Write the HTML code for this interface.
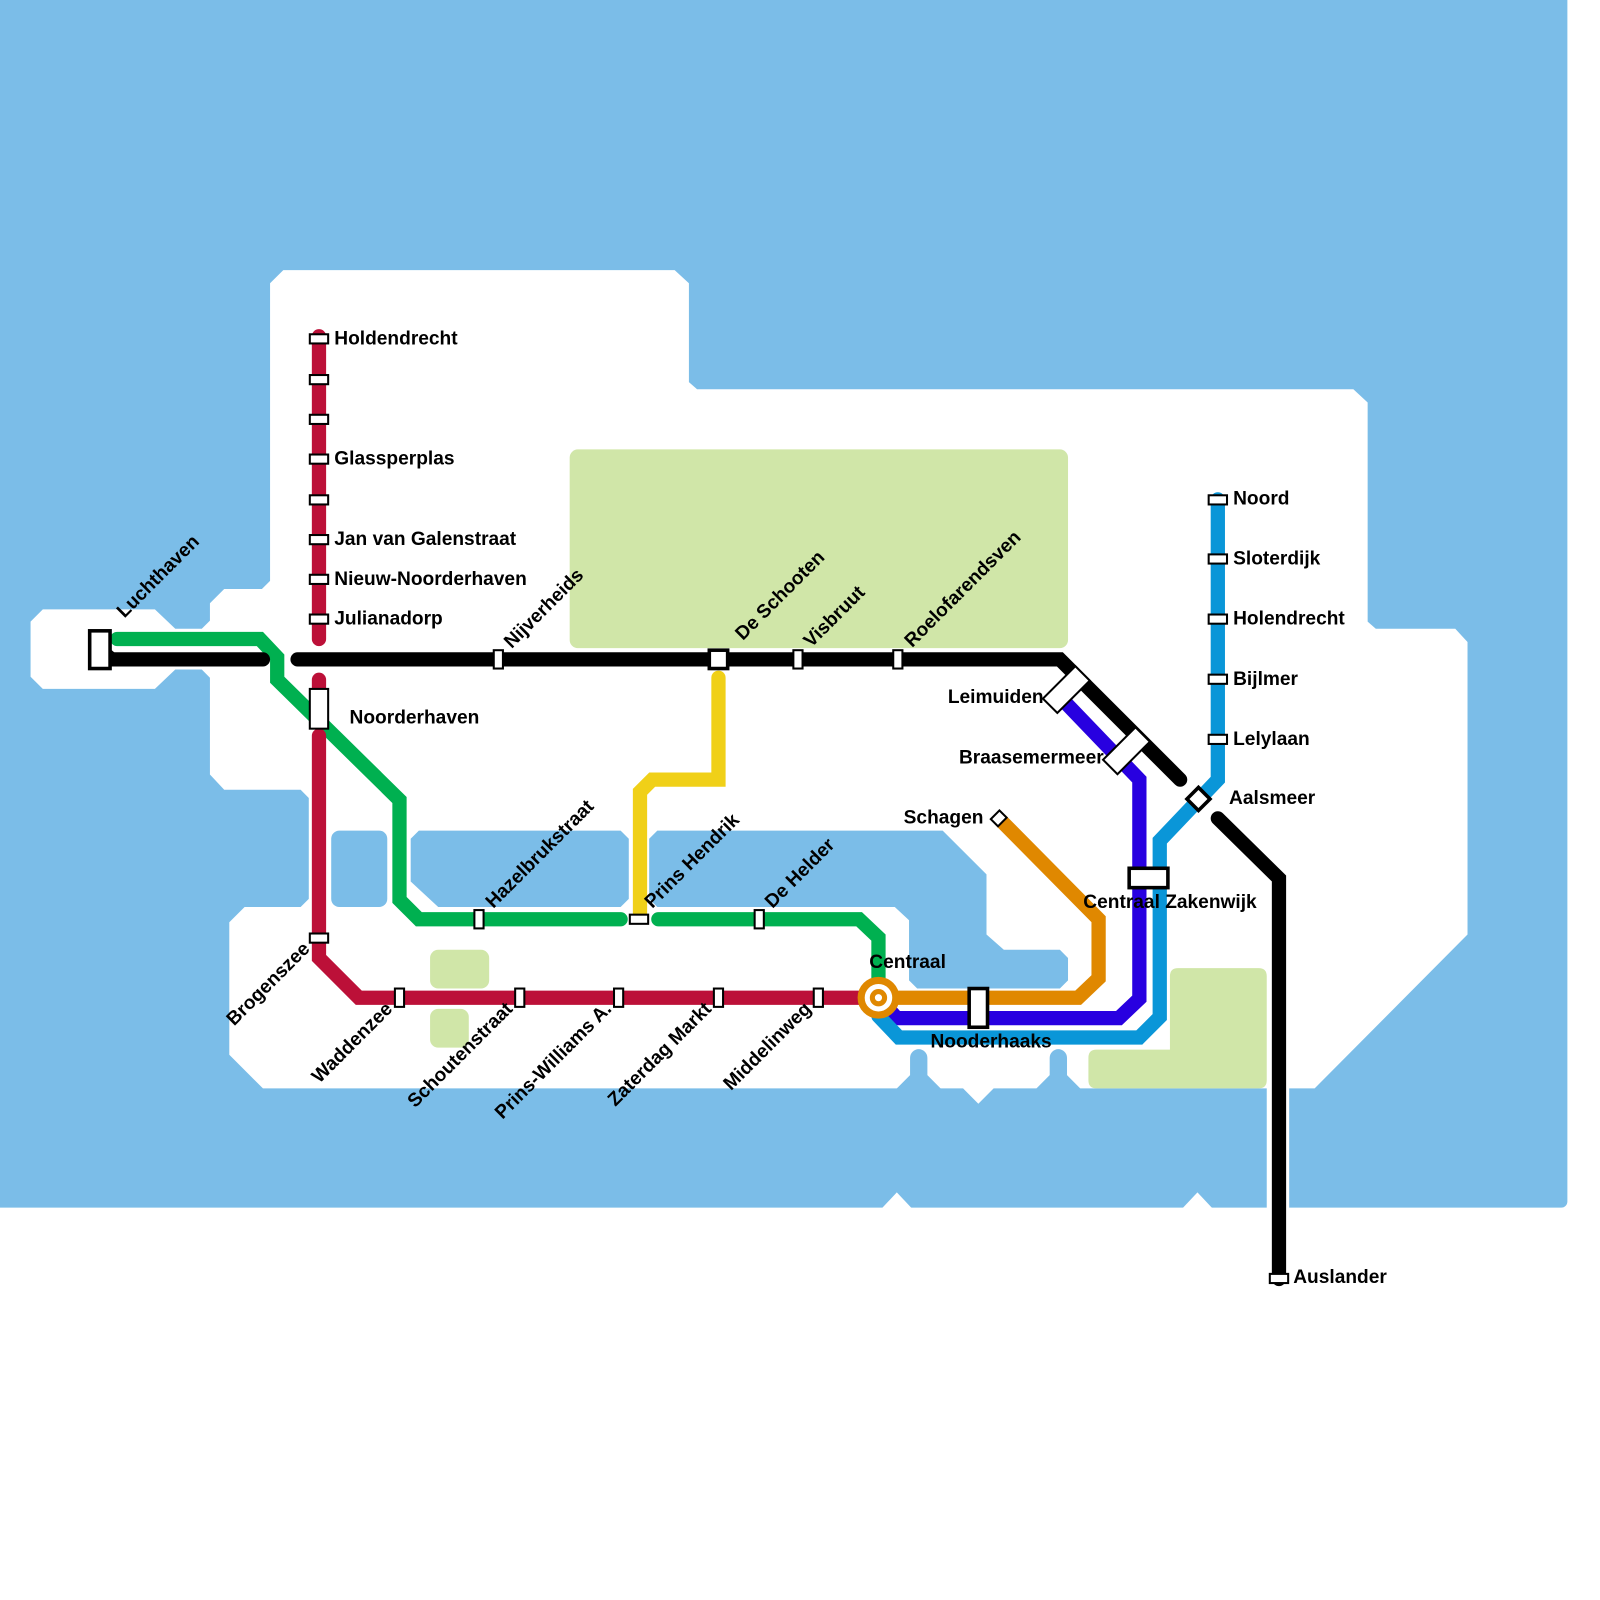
<!DOCTYPE html>
<html><head><meta charset="utf-8"><style>html,body{margin:0;padding:0;background:#fff}svg{display:block}text{font-family:"Liberation Sans",sans-serif;font-weight:bold;font-size:18.8px;fill:#000}</style></head>
<body>
<svg width="1600" height="1600" viewBox="0 0 1570 1570" xmlns="http://www.w3.org/2000/svg">
<rect x="0" y="0" width="1570" height="1570" fill="#fff"/>
<rect x="-10" y="-10" width="1548" height="1195" rx="6" fill="#7bbde8"/>
<polygon fill="#fff" points="278,265 662,265 676,278 676,375 684,382 1328,382 1342,395 1342,610 1350,617 1428,617 1440,630 1440,917 1290,1068 975,1068 960,1083 945,1068 258,1068 225,1035 225,905 240,890 295,890 303,882 303,783 295,775 220,775 206,760 206,665 198,657 172,657 152,676 42,676 30,664 30,610 42,598 152,598 172,617 198,617 206,609 206,592 220,578 257,578 265,570 265,278"/>
<rect x="1243" y="1060" width="22" height="140" fill="#fff"/>
<polygon fill="#fff" points="865,1186 880,1170 895,1186"/>
<polygon fill="#fff" points="1160,1186 1175,1170 1190,1186"/>
<rect x="325" y="815" width="55" height="75" rx="8" fill="#7bbde8"/>
<polygon fill="#7bbde8" points="411,815 609,815 617,823 617,882 609,890 430,890 403,865 403,823"/>
<polygon fill="#7bbde8" points="645,815 925,815 968,858 968,917 985,932 1040,932 1048,940 1048,962 1040,970 900,970 892,962 892,903 878,890 645,890 637,882 637,823"/>
<path fill="#7bbde8" d="M878,1070 L893,1055 L893,1038 A8.5,8.5 0 0 1 910,1038 L910,1055 L925,1070 Z"/>
<path fill="#7bbde8" d="M1015,1070 L1030,1055 L1030,1038 A8.5,8.5 0 0 1 1047,1038 L1047,1055 L1062,1070 Z"/>
<rect x="559" y="441" width="489" height="195" rx="8" fill="#d0e6a8"/>
<rect x="422" y="932" width="58" height="38" rx="8" fill="#d0e6a8"/>
<rect x="422" y="990" width="38" height="38" rx="8" fill="#d0e6a8"/>
<path fill="#d0e6a8" d="M1156,950 H1235 Q1243,950 1243,958 V1060 Q1243,1068 1235,1068 H1076 Q1068,1068 1068,1060 V1038 Q1068,1030 1076,1030 H1148 V958 Q1148,950 1156,950 Z"/>
<g fill="none" stroke-width="14" stroke-linejoin="miter" stroke-linecap="round">
<polyline stroke="#00b050" points="115,627 255,627 272,645 272,667 392,785 392,883 411,902 609,902"/>
<polyline stroke="#00b050" points="646,902 843,902 862,920 862,960"/>
<polyline stroke="#bc1038" points="313,330 313,627"/>
<polyline stroke="#bc1038" points="313,667 313,680"/>
<polyline stroke="#bc1038" points="313,722 313,940 352,979 862,979"/>
<polyline stroke="#f0d018" points="705,665 705,765 685,765 640,765 628,777 628,900"/>
<polyline stroke="#e08800" points="862,979 1058,979 1078,960 1078,902 982,805"/>
<polyline stroke="#2800e0" points="1046,690 1118,765 1118,980 1098,999 880,999 862,979"/>
<polyline stroke="#0a96d8" points="1195,490 1195,765 1138,825 1138,998 1118,1018 882,1018 862,997"/>
<polyline stroke="#000" points="110,647 258,647"/>
<polyline stroke="#000" points="292,647 1040,647 1158,765"/>
<polyline stroke="#000" points="1195,803 1255,862 1255,1255"/>
</g>
<polygon points="100,630 118,645 100,652" fill="#000"/>
<g fill="#fff" stroke="#000" stroke-width="2">
<rect x="304" y="328" width="18" height="9"/>
<rect x="304" y="368" width="18" height="9"/>
<rect x="304" y="407" width="18" height="9"/>
<rect x="304" y="446" width="18" height="9"/>
<rect x="304" y="486" width="18" height="9"/>
<rect x="304" y="525" width="18" height="9"/>
<rect x="304" y="564" width="18" height="9"/>
<rect x="304" y="603" width="18" height="9"/>
<rect x="304" y="916" width="18" height="9"/>
<rect x="304" y="676" width="18" height="39"/>
<rect x="387.5" y="970" width="9" height="18"/>
<rect x="505.5" y="970" width="9" height="18"/>
<rect x="602.5" y="970" width="9" height="18"/>
<rect x="700.5" y="970" width="9" height="18"/>
<rect x="798.5" y="970" width="9" height="18"/>
<rect x="484.5" y="638" width="9" height="18"/>
<rect x="778.5" y="638" width="9" height="18"/>
<rect x="876.5" y="638" width="9" height="18"/>
<rect x="465.5" y="893" width="9" height="18"/>
<rect x="618" y="897.5" width="18" height="9"/>
<rect x="740.5" y="893" width="9" height="18"/>
<rect x="1186" y="486" width="18" height="9"/>
<rect x="1186" y="544" width="18" height="9"/>
<rect x="1186" y="603" width="18" height="9"/>
<rect x="1186" y="662" width="18" height="9"/>
<rect x="1186" y="721" width="18" height="9"/>
<rect x="1246" y="1250" width="18" height="9"/>
<rect x="1024" y="667" width="45" height="20" transform="rotate(-45 1046 677)"/>
<rect x="1083" y="727" width="45" height="20" transform="rotate(-45 1105 737)"/>
<rect x="974" y="798" width="12" height="10" transform="rotate(-45 980 803)"/>
</g>
<g fill="#fff" stroke="#000" stroke-width="3.5">
<rect x="88" y="619" width="20" height="37"/>
<rect x="696" y="638" width="18" height="18"/>
<rect x="951" y="970" width="18" height="38"/>
<rect x="1108" y="852" width="38" height="19"/>
<rect x="1168" y="776" width="16" height="16" transform="rotate(45 1176 784)"/>
</g>
<circle cx="862" cy="979" r="17" fill="#fff" stroke="#e08800" stroke-width="7"/>
<circle cx="862" cy="979" r="6" fill="#fff" stroke="#e08800" stroke-width="5"/>
<text x="328" y="338">Holdendrecht</text>
<text x="328" y="456">Glassperplas</text>
<text x="328" y="535">Jan van Galenstraat</text>
<text x="328" y="574">Nieuw-Noorderhaven</text>
<text x="328" y="613">Julianadorp</text>
<text x="343" y="710">Noorderhaven</text>
<text x="1210" y="495">Noord</text>
<text x="1210" y="554">Sloterdijk</text>
<text x="1210" y="613">Holendrecht</text>
<text x="1210" y="672">Bijlmer</text>
<text x="1210" y="731">Lelylaan</text>
<text x="1206" y="789">Aalsmeer</text>
<text x="1269" y="1259">Auslander</text>
<text x="853" y="950">Centraal</text>
<text x="913" y="1028">Nooderhaaks</text>
<text x="1063" y="891">Centraal Zakenwijk</text>
<text x="1024" y="690" text-anchor="end">Leimuiden</text>
<text x="1083" y="749" text-anchor="end">Braasemermeer</text>
<text x="965" y="808" text-anchor="end">Schagen</text>
<text transform="translate(122,607) rotate(-45)">Luchthaven</text>
<text transform="translate(502,637) rotate(-45)">Nijverheids</text>
<text transform="translate(729,629) rotate(-45)">De Schooten</text>
<text transform="translate(796,636) rotate(-45)">Visbruut</text>
<text transform="translate(895,636) rotate(-45)">Roelofarendsven</text>
<text transform="translate(484,892) rotate(-45)">Hazelbrukstraat</text>
<text transform="translate(640,892) rotate(-45)">Prins Hendrik</text>
<text transform="translate(758,892) rotate(-45)">De Helder</text>
<text text-anchor="end" transform="translate(305,932) rotate(-45)">Brogenszee</text>
<text text-anchor="end" transform="translate(386,991) rotate(-45)">Waddenzee</text>
<text text-anchor="end" transform="translate(504,991) rotate(-45)">Schoutenstraat</text>
<text text-anchor="end" transform="translate(601,991) rotate(-45)">Prins-Williams A.</text>
<text text-anchor="end" transform="translate(699,991) rotate(-45)">Zaterdag Markt</text>
<text text-anchor="end" transform="translate(797,991) rotate(-45)">Middelinweg</text>
</svg>
</body></html>
